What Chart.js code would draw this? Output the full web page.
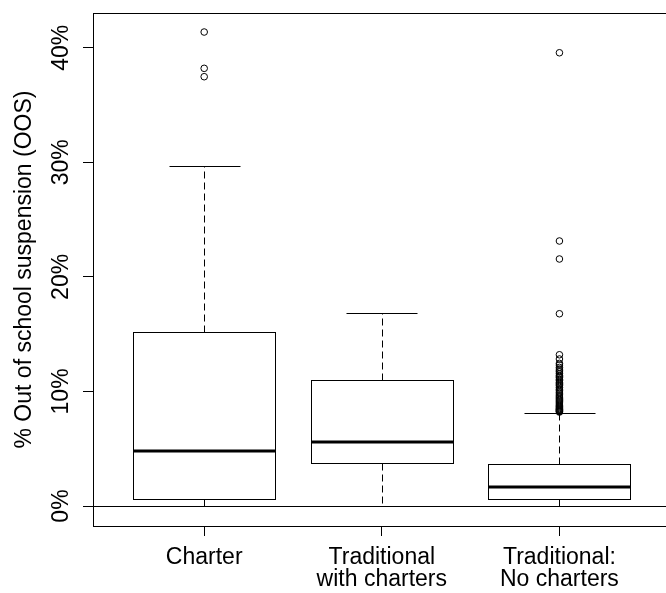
<!DOCTYPE html>
<html>
<head>
<meta charset="utf-8">
<script src="https://cdn.jsdelivr.net/npm/chart.js@4.4.1/dist/chart.umd.min.js"></script>
<style>
  body { margin: 0; background: #fff; }
  canvas { display: block; }
</style>
</head>
<body>
<canvas id="chart" width="666" height="593"></canvas>
<script>
// data (values in %)
const groupLabels = [['Charter'], ['Traditional', 'with charters'], ['Traditional:', 'No charters']];
const groupPos = [1, 2, 3];
const whiskerLow = [0, 0, 0];
const q1 = [0.64, 3.78, 0.64];
const median = [4.83, 5.62, 1.69];
const q3 = [15.17, 11.0, 3.64];
const whiskerHigh = [29.66, 16.88, 8.12];
const outCharter = [41.37, 38.2, 37.47];
const outWithCharters = [];
const outNoCharters = [39.56, 23.13, 21.56, 16.78, 13.2, 12.83, 12.45, 12.3, 12.1, 11.95, 11.8, 11.7,
  11.55, 11.4, 11.3, 11.2, 11.05, 10.95, 10.8, 10.7, 10.6, 10.5, 10.35, 10.2, 10.1, 9.95, 9.85,
  9.7, 9.6, 9.5, 9.4, 9.3, 9.2, 9.1, 9.0, 8.9, 8.8, 8.72, 8.65, 8.58, 8.5, 8.45, 8.4, 8.35, 8.3, 8.25, 8.2];
const yTicks = [0, 10, 20, 30, 40];
const refLine = 0;

const boxHalf = 0.4;
const capHalf = 0.2;
const font = { family: 'Liberation Sans, Arial, sans-serif', size: 23 };

const outlierPoints = [];
[outCharter, outWithCharters, outNoCharters].forEach((list, i) => {
  list.forEach((v) => outlierPoints.push({ x: groupPos[i], y: v }));
});

function crisp(v) { return Math.round(v) + 0.5; }

const boxPlotter = {
  id: 'boxPlotter',
  beforeDatasetsDraw(chart) {
    const ctx = chart.ctx;
    const xs = chart.scales.x;
    const ys = chart.scales.y;
    const area = chart.chartArea;
    ctx.save();
    ctx.strokeStyle = '#000';
    ctx.lineWidth = 1;
    // zero line
    let y0 = crisp(ys.getPixelForValue(refLine));
    ctx.beginPath();
    ctx.moveTo(area.left, y0);
    ctx.lineTo(area.right, y0);
    ctx.stroke();
    groupPos.forEach((p, i) => {
      const xc = crisp(xs.getPixelForValue(p));
      const xl = crisp(xs.getPixelForValue(p - boxHalf));
      const xr = crisp(xs.getPixelForValue(p + boxHalf));
      const cl = crisp(xs.getPixelForValue(p - capHalf));
      const cr = crisp(xs.getPixelForValue(p + capHalf));
      const yq1 = crisp(ys.getPixelForValue(q1[i]));
      const yq3 = crisp(ys.getPixelForValue(q3[i]));
      const ylo = crisp(ys.getPixelForValue(whiskerLow[i]));
      const yhi = crisp(ys.getPixelForValue(whiskerHigh[i]));
      const ymed = ys.getPixelForValue(median[i]);
      // whiskers
      ctx.setLineDash([7, 4]);
      ctx.beginPath();
      ctx.moveTo(xc, yq3);
      ctx.lineTo(xc, yhi);
      ctx.moveTo(xc, yq1);
      ctx.lineTo(xc, ylo);
      ctx.stroke();
      ctx.setLineDash([]);
      // caps
      ctx.beginPath();
      ctx.moveTo(cl, yhi);
      ctx.lineTo(cr, yhi);
      ctx.moveTo(cl, ylo);
      ctx.lineTo(cr, ylo);
      ctx.stroke();
      // box
      ctx.fillStyle = '#fff';
      ctx.fillRect(xl, yq3, xr - xl, yq1 - yq3);
      ctx.strokeRect(xl, yq3, xr - xl, yq1 - yq3);
      // median
      ctx.lineWidth = 3;
      ctx.beginPath();
      ctx.moveTo(xl, Math.round(ymed));
      ctx.lineTo(xr, Math.round(ymed));
      ctx.stroke();
      ctx.lineWidth = 1;
    });
    ctx.restore();
  },
  afterDraw(chart) {
    const ctx = chart.ctx;
    const a = chart.chartArea;
    ctx.save();
    ctx.strokeStyle = '#000';
    ctx.lineWidth = 1;
    ctx.strokeRect(crisp(a.left), crisp(a.top), Math.round(a.right - a.left), Math.round(a.bottom - a.top));
    ctx.restore();
  }
};

new Chart(document.getElementById('chart'), {
  type: 'scatter',
  data: {
    datasets: [{
      data: outlierPoints,
      pointStyle: 'circle',
      pointRadius: 3.3,
      borderWidth: 1,
      borderColor: '#000',
      backgroundColor: 'rgba(255,255,255,0)'
    }]
  },
  options: {
    responsive: false,
    animation: false,
    events: [],
    layout: { autoPadding: false, padding: { top: 13, left: 0, right: 0, bottom: 0 } },
    plugins: { legend: { display: false }, tooltip: { enabled: false } },
    scales: {
      x: {
        type: 'linear',
        min: 0.374,
        max: 3.6,
        afterBuildTicks: (s) => { s.ticks = groupPos.map((v) => ({ value: v })); },
        afterFit: (s) => { s.height = 67; s.paddingLeft = 0; s.paddingRight = 0; },
        ticks: {
          callback: (v, i) => groupLabels[i],
          font: Object.assign({ lineHeight: 0.95 }, font),
          color: '#000',
          padding: 11,
          maxRotation: 0,
          autoSkip: false
        },
        grid: { drawOnChartArea: false, drawTicks: true, tickLength: 10, color: '#000' },
        border: { display: false }
      },
      y: {
        min: -1.745,
        max: 43.03,
        afterBuildTicks: (s) => { s.ticks = yTicks.map((v) => ({ value: v })); },
        afterFit: (s) => { s.width = 93; s.paddingTop = 0; s.paddingBottom = 0; },
        ticks: {
          callback: (v) => v + '%',
          font: font,
          color: '#000',
          minRotation: 90,
          maxRotation: 90,
          crossAlign: 'center',
          padding: -2
        },
        title: {
          display: true,
          text: '% Out of school suspension (OOS)',
          font: font,
          color: '#000',
          padding: { top: 11, bottom: 0 }
        },
        grid: { drawOnChartArea: false, drawTicks: true, tickLength: 10, color: '#000' },
        border: { display: false }
      }
    }
  },
  plugins: [boxPlotter]
});
</script>
</body>
</html>
